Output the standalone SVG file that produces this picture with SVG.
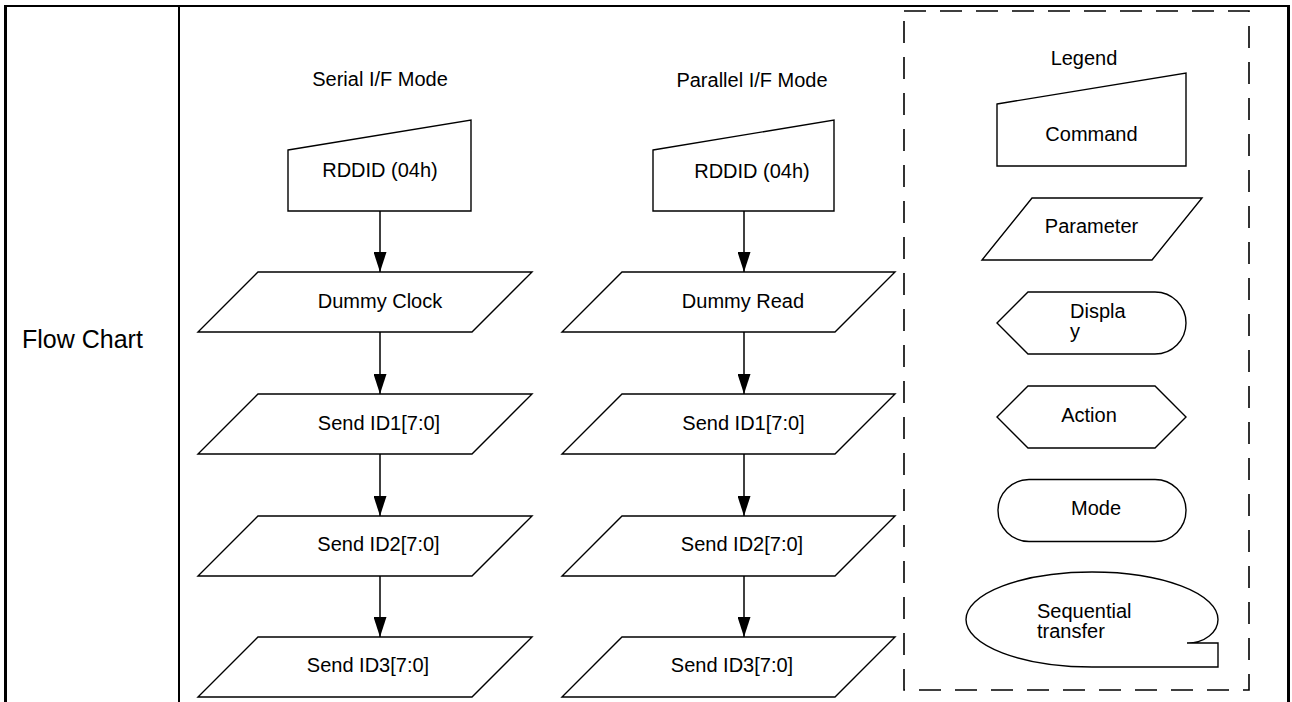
<svg xmlns="http://www.w3.org/2000/svg" width="1292" height="702" viewBox="0 0 1292 702">
<style>
text{font-family:"Liberation Sans",Arial,Helvetica,sans-serif;font-size:20px;fill:#000}
.c{text-anchor:middle}
.shape{fill:#fff;stroke:#000;stroke-width:1.4}
.conn{stroke:#000;stroke-width:1.5;fill:none}
.frame{stroke:#000;fill:none}
</style>
<defs>
<marker id="ah" markerUnits="userSpaceOnUse" markerWidth="20" markerHeight="13" refX="20" refY="6.5" orient="auto">
<path d="M0,0 L20,6.5 L0,13 z" fill="#000"/>
</marker>
</defs>
<rect width="1292" height="702" fill="#fff"/>
<g id="frame">
<line class="frame" x1="4" y1="6" x2="1290" y2="6" stroke-width="2"/>
<line class="frame" x1="5.5" y1="5" x2="5.5" y2="702" stroke-width="3"/>
<line class="frame" x1="179" y1="6" x2="179" y2="702" stroke-width="2"/>
<line class="frame" x1="1288.5" y1="5" x2="1288.5" y2="702" stroke-width="3"/>
<text x="22" y="348" style="font-size:25px">Flow Chart</text>
</g>
<g id="titles">
<text class="c" x="380" y="86">Serial I/F Mode</text>
<text class="c" x="752" y="87">Parallel I/F Mode</text>
</g>
<g id="serial-rddid"><polygon class="shape" points="288,150 471,120 471,211 288,211"/><text class="c" x="380" y="177">RDDID (04h)</text></g>
<g id="serial-dummy"><polygon class="shape" points="258,272 532,272 472,332 198,332"/><text class="c" x="380" y="308">Dummy Clock</text></g>
<g id="serial-id1"><polygon class="shape" points="258,394 532,394 472,454 198,454"/><text class="c" x="379" y="430">Send ID1[7:0]</text></g>
<g id="serial-id2"><polygon class="shape" points="258,516 532,516 472,576 198,576"/><text class="c" x="378.5" y="551">Send ID2[7:0]</text></g>
<g id="serial-id3"><polygon class="shape" points="258,637 532,637 472,697 198,697"/><text class="c" x="368" y="672">Send ID3[7:0]</text></g>
<g id="parallel-rddid"><polygon class="shape" points="653,150 834,120 834,211 653,211"/><text class="c" x="752" y="178">RDDID (04h)</text></g>
<g id="parallel-dummy"><polygon class="shape" points="622,272 895,272 835,332 562,332"/><text class="c" x="743" y="308">Dummy Read</text></g>
<g id="parallel-id1"><polygon class="shape" points="622,394 895,394 835,454 562,454"/><text class="c" x="743.5" y="430">Send ID1[7:0]</text></g>
<g id="parallel-id2"><polygon class="shape" points="622,516 895,516 835,576 562,576"/><text class="c" x="742" y="551">Send ID2[7:0]</text></g>
<g id="parallel-id3"><polygon class="shape" points="622,637 895,637 835,697 562,697"/><text class="c" x="732" y="672">Send ID3[7:0]</text></g>
<g id="connectors">
<line class="conn" x1="380" y1="211" x2="380" y2="272" marker-end="url(#ah)"/>
<line class="conn" x1="380" y1="332" x2="380" y2="394" marker-end="url(#ah)"/>
<line class="conn" x1="380" y1="454" x2="380" y2="516" marker-end="url(#ah)"/>
<line class="conn" x1="380" y1="576" x2="380" y2="637" marker-end="url(#ah)"/>
<line class="conn" x1="744" y1="211" x2="744" y2="272" marker-end="url(#ah)"/>
<line class="conn" x1="744" y1="332" x2="744" y2="394" marker-end="url(#ah)"/>
<line class="conn" x1="744" y1="454" x2="744" y2="516" marker-end="url(#ah)"/>
<line class="conn" x1="744" y1="576" x2="744" y2="637" marker-end="url(#ah)"/>
</g>
<g id="legend">
<rect x="904" y="11" width="345" height="679" fill="none" stroke="#000" stroke-width="1.6" stroke-dasharray="22 14"/>
<text class="c" x="1084" y="65">Legend</text>
<g id="legend-command"><polygon class="shape" points="997,104 1186,73 1186,166 997,166"/><text class="c" x="1091.5" y="141">Command</text></g>
<g id="legend-parameter"><polygon class="shape" points="1032,198 1202,198 1152,260 982,260"/><text class="c" x="1091.5" y="233">Parameter</text></g>
<g id="legend-display"><path class="shape" d="M997,323 L1028,292 L1155,292 A31,31 0 0 1 1155,354 L1028,354 Z"/><text x="1070" y="318">Displa</text><text x="1070" y="338">y</text></g>
<g id="legend-action"><polygon class="shape" points="997,417 1028,386 1155,386 1186,417 1155,448 1028,448"/><text class="c" x="1089" y="422">Action</text></g>
<g id="legend-mode"><rect class="shape" x="998" y="479.5" width="188" height="62" rx="31" ry="31"/><text class="c" x="1096" y="515">Mode</text></g>
<g id="legend-sequential"><path class="shape" d="M1092,667 A126,47.5 0 1 1 1218,619.5 C1218,632 1205,643 1187,643 L1218,643 L1218,667 Z"/><text x="1037" y="618">Sequential</text><text x="1037" y="638">transfer</text></g>
</g>
</svg>
